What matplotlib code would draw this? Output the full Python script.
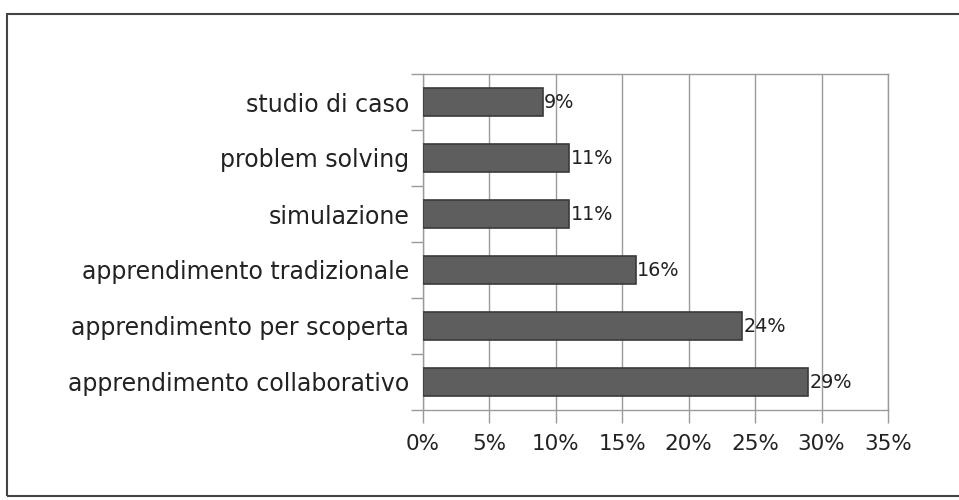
import numpy as np
import matplotlib as mpl
from matplotlib import pyplot as plt
from matplotlib.ticker import FixedLocator, PercentFormatter

# data ------------------------------------------------------------------------
categorie = ['apprendimento collaborativo', 'apprendimento per scoperta',
             'apprendimento tradizionale', 'simulazione',
             'problem solving', 'studio di caso']
valori = [29, 24, 16, 11, 11, 9]
xticks = [0, 5, 10, 15, 20, 25, 30, 35]

# figure ----------------------------------------------------------------------
fig = plt.figure(figsize=(9.59, 5.0), dpi=100)
ax = fig.add_axes([423/959, 1-410/500, (888-423)/959, (410-74)/500])

grigio = '#9a9a9a'
y = np.arange(len(categorie))
ax.barh(y, valori, height=0.5, color='#5e5e5e', edgecolor='#3a3a3a',
        linewidth=1.2, zorder=3)

for yi, v in zip(y, valori):
    ax.text(v + 0.12, yi, f'{v}%', va='center', ha='left', fontsize=13.8,
            color='#222222', zorder=4)

ax.set_xlim(0, 35)
ax.set_ylim(-0.5, len(categorie) - 0.5)
ax.set_xticks(xticks)
ax.xaxis.set_major_formatter(PercentFormatter(decimals=0))
ax.set_yticks(y)
ax.set_yticklabels(categorie)
ax.yaxis.set_minor_locator(FixedLocator(np.arange(-0.5, len(categorie), 1)))

ax.tick_params(axis='y', which='major', length=0, pad=10, labelsize=17,
               labelcolor='#222222')
ax.tick_params(axis='y', which='minor', length=9, color=grigio, width=1)
ax.tick_params(axis='x', which='major', length=9, color=grigio, width=1,
               pad=8, labelsize=15.5, labelcolor='#222222')

ax.grid(axis='x', color=grigio, linewidth=1, zorder=0)
for s in ax.spines.values():
    s.set_color(grigio)
    s.set_linewidth(1)

# outer frame
fig.add_artist(mpl.patches.Rectangle((7/959, 1-496/500), 960/959, (496-14)/500,
                                     transform=fig.transFigure, fill=False,
                                     edgecolor='#444444', linewidth=1.5))

fig.savefig('out.png', dpi=100, facecolor='white')
